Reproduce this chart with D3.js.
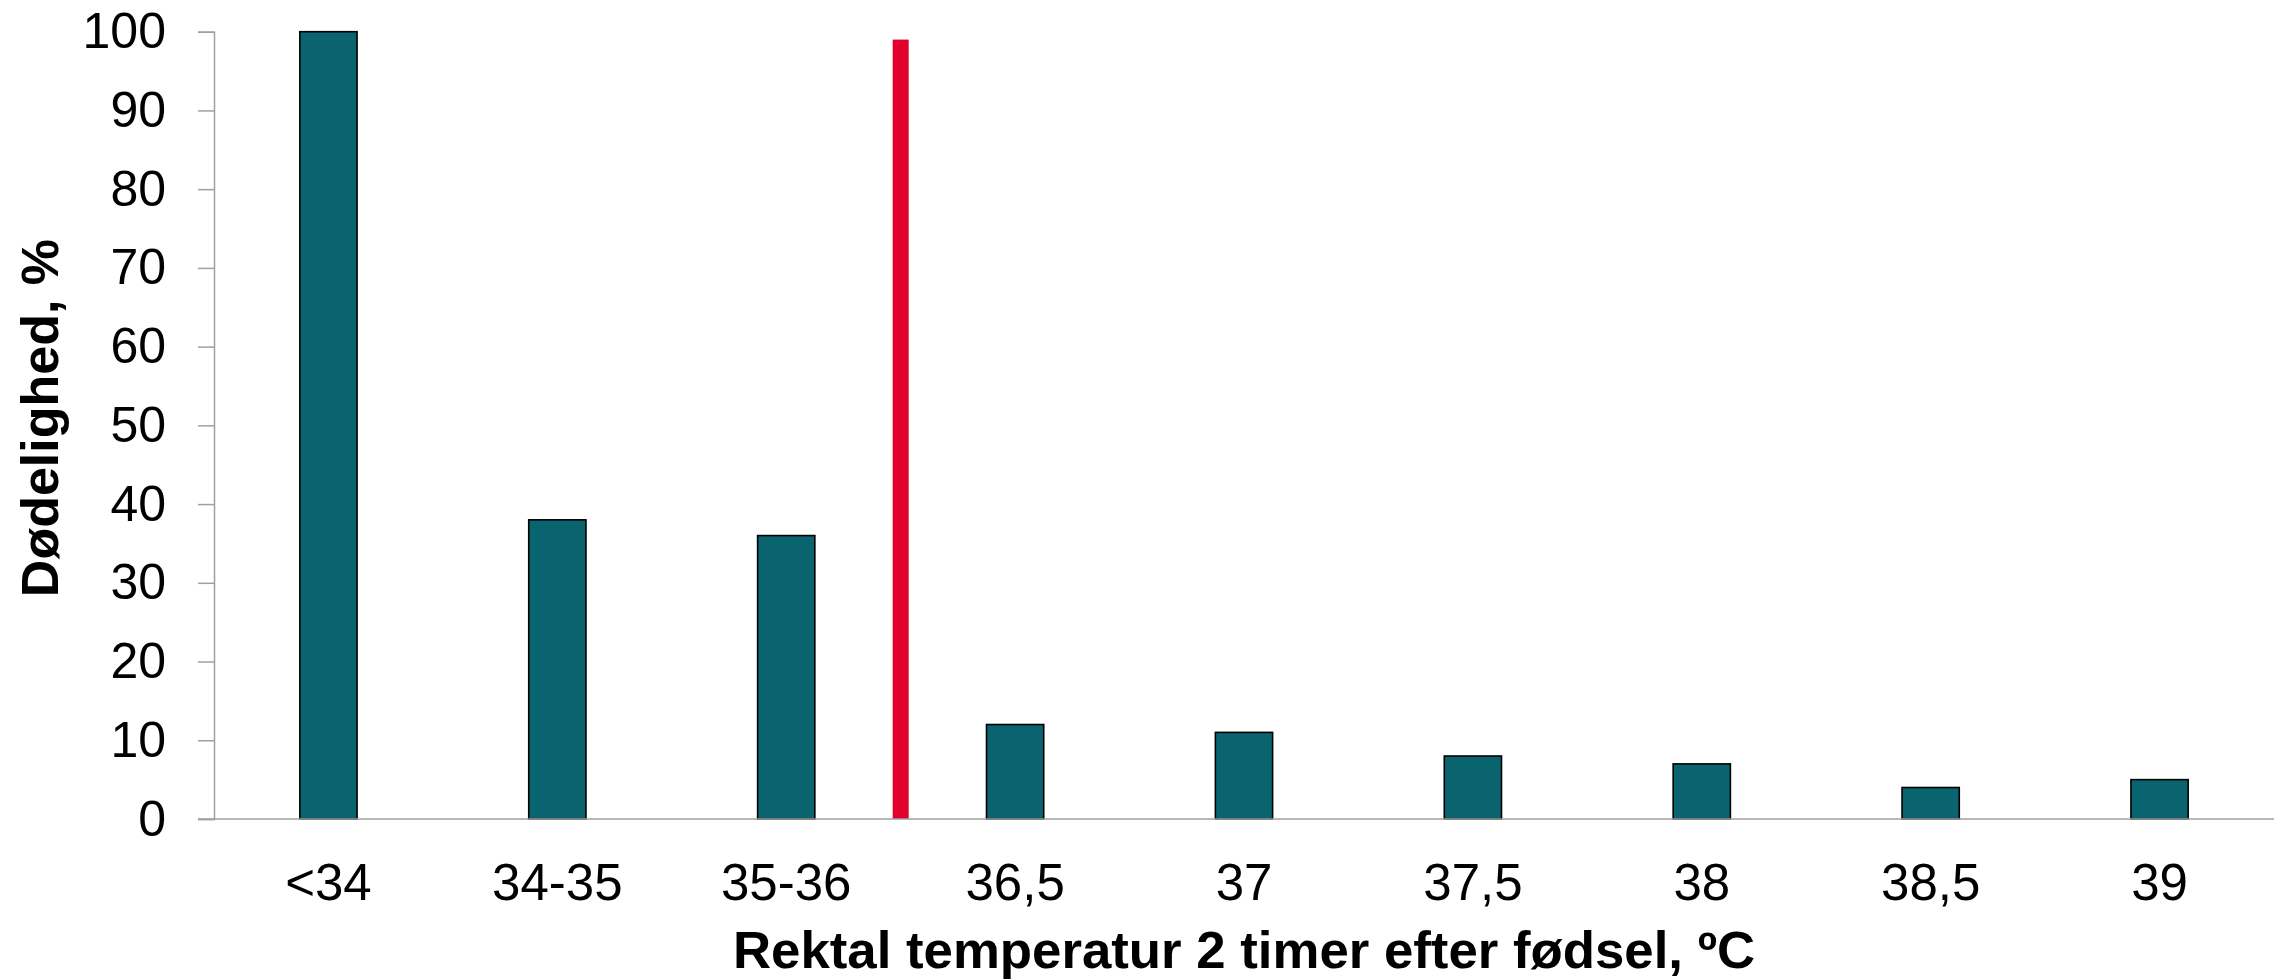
<!DOCTYPE html>
<html>
<head>
<meta charset="utf-8">
<script src="https://cdn.jsdelivr.net/npm/d3@7/dist/d3.min.js"></script>
<style>
  html, body { margin: 0; padding: 0; background: #fff; }
  svg { display: block; }
  text { font-family: "Liberation Sans", Arial, sans-serif; fill: #000; }
</style>
</head>
<body>
<svg id="chart" width="2287" height="979"></svg>
<script>
const categories = ["<34", "34-35", "35-36", "36,5", "37", "37,5", "38", "38,5", "39"];
const mortality = [100, 38, 36, 12, 11, 8, 7, 4, 5];
const yTicks = [0, 10, 20, 30, 40, 50, 60, 70, 80, 90, 100];
const thresholdAfter = "35-36";
const thresholdValue = 99;
const yTitle = "Dødelighed, %";
const xTitle = "Rektal temperatur 2 timer efter fødsel, ºC";

(function () {
const svg = d3.select("#chart");
const mLeft = 214, mRight = 2274, mTop = 31.7, mBottom = 819;

const x = d3.scaleBand().domain(categories).range([mLeft, mRight])
  .paddingInner(0.75).paddingOuter(0.375);
const y = d3.scaleLinear().domain([0, 100]).range([mBottom, mTop]);

// bars
svg.append("g").selectAll("rect").data(categories).join("rect")
  .attr("x", d => x(d))
  .attr("width", x.bandwidth())
  .attr("y", (d, i) => y(mortality[i]))
  .attr("height", (d, i) => y(0) - y(mortality[i]))
  .attr("fill", "#0a6470")
  .attr("stroke", "#000")
  .attr("stroke-width", 1.6);

// threshold line
const bx = x(thresholdAfter) + x.bandwidth() / 2 + x.step() / 2;
svg.append("rect")
  .attr("x", bx - 8)
  .attr("width", 16)
  .attr("y", y(thresholdValue))
  .attr("height", y(0) - y(thresholdValue))
  .attr("fill", "#e0002b");

// y axis
const yAxis = d3.axisLeft(y).tickValues(yTicks).tickSize(16).tickPadding(32).tickFormat(d3.format("d"));
const gy = svg.append("g").attr("transform", `translate(${mLeft},0)`).call(yAxis);
gy.select(".domain").attr("stroke", "#a0a0a0").attr("stroke-width", 1.5);
gy.selectAll(".tick line").attr("stroke", "#a0a0a0").attr("stroke-width", 1.5);
gy.selectAll(".tick text").attr("font-size", 50).attr("font-family", "Liberation Sans, Arial, sans-serif").attr("fill", "#000");

// x axis
const xAxis = d3.axisBottom(x).tickSize(0).tickPadding(0);
const gx = svg.append("g").attr("transform", `translate(0,${mBottom})`).call(xAxis);
gx.select(".domain").remove();
gx.append("line").attr("x1", mLeft - 16).attr("x2", mRight).attr("y1", 0).attr("y2", 0)
  .attr("stroke", "#a0a0a0").attr("stroke-width", 1.5);
gx.selectAll(".tick text").attr("font-size", 51).attr("font-family", "Liberation Sans, Arial, sans-serif")
  .attr("fill", "#000").attr("dy", null).attr("y", 81);

// titles
svg.append("text")
  .attr("transform", `translate(58,418) rotate(-90)`)
  .attr("text-anchor", "middle")
  .attr("font-weight", "bold")
  .attr("font-size", 52)
  .text(yTitle);

svg.append("text")
  .attr("x", (mLeft + mRight) / 2)
  .attr("y", 968)
  .attr("text-anchor", "middle")
  .attr("font-weight", "bold")
  .attr("font-size", 52)
  .attr("textLength", 1022)
  .attr("lengthAdjust", "spacingAndGlyphs")
  .text(xTitle);
})();
</script>
</body>
</html>
